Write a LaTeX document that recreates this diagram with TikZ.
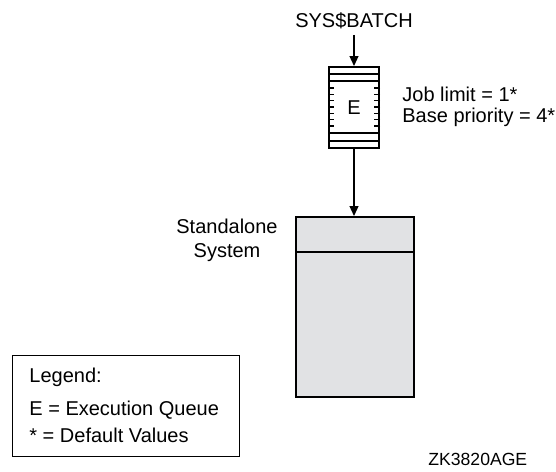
\documentclass[tikz,border=0pt]{standalone}
\usepackage{fontspec}
\setmainfont{Liberation Sans}
\usepackage{tikz}
\usetikzlibrary{positioning, arrows.meta}
\definecolor{sysgray}{RGB}{225,226,228}
\tikzstyle{label} = [inner sep=0pt]
\tikzstyle{arrow} = [line width=0.6pt,-{Triangle[length=5pt,width=4.5pt]}]
\tikzstyle{tick} = [line width=0.8pt]

\begin{document}
\begin{tikzpicture}[x=0.5pt,y=-0.5pt,
queuenode/.style={rectangle, draw=black, line width=1pt, minimum width=25pt, minimum height=40.5pt, inner sep=0pt},
systemnode/.style={rectangle, draw=black, fill=sysgray, line width=1pt, minimum width=59pt, minimum height=90pt},
legendnode/.style={rectangle, draw=black, line width=0.7pt, minimum width=113.5pt, minimum height=50.5pt, inner sep=0pt}
]
\useasboundingbox (0,0) rectangle (556,471);
\node[label, anchor=base] (batch) at (354,27) {SYS\$BATCH};
\node[queuenode] (q) at (354,107.5) {E};
\node[label, anchor=north west, align=left, font=\fontsize{10}{10.5}\selectfont] (limits) at (402,86.5) {Job limit = 1*\\Base priority = 4*};
\node[systemnode] (sys) at (355,307) {};
\node[label, anchor=north, align=center] (syslabel) at (227,218.5) {Standalone\\System};
\node[legendnode, anchor=north west] (legend) at (12,355) {};
\node[label, anchor=base west] (legtitle) at (29,382) {Legend:};
\node[label, anchor=base west] (legE) at (29,415) {E = Execution Queue};
\node[label, anchor=base west] (legstar) at (29,442) {* = Default Values};
\node[label, anchor=base west, font=\fontsize{8.8}{10}\selectfont] (code) at (428,465) {ZK3820AGE};

% queue bars and ticks
\draw[tick] ([yshift=-4pt]q.north west) -- ([yshift=-4pt]q.north east);
\draw[tick] ([yshift=-7.5pt]q.north west) -- ([yshift=-7.5pt]q.north east);
\draw[tick] ([yshift=8pt]q.south west) -- ([yshift=8pt]q.south east);
\draw[tick] ([yshift=4pt]q.south west) -- ([yshift=4pt]q.south east);
\foreach \t in {11,14.2,17.3,20.5,23.7,26.8,30} {
  \draw[tick] ([yshift=-\t pt]q.north west) -- ++(3pt,0);
  \draw[tick] ([yshift=-\t pt]q.north east) -- ++(-3pt,0);
}
\draw[line width=0.8pt] ([yshift=-18pt]sys.north west) -- ([yshift=-18pt]sys.north east);

\draw[arrow] ([yshift=-3pt]batch.south) -- (q.north);
\draw[arrow] (q.south) -- (q.south |- sys.north);
\end{tikzpicture}
\end{document}
